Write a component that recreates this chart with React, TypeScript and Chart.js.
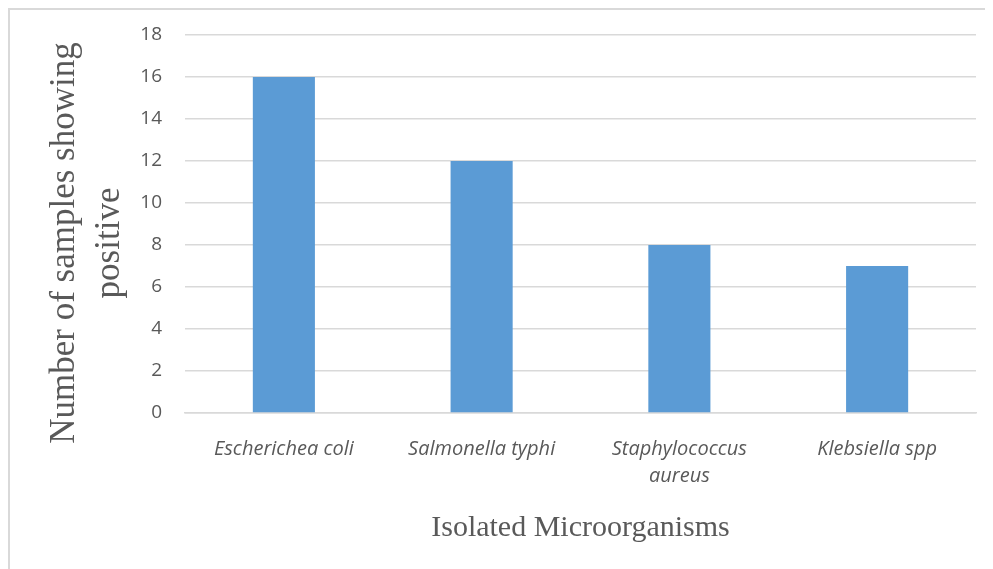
import React, { useEffect, useRef } from "react";
import { Chart, registerables } from "chart.js";

Chart.register(...registerables);

const categories: (string | string[])[] = [
  "Escherichea coli",
  "Salmonella typhi",
  ["Staphylococcus", "aureus"],
  "Klebsiella spp",
];
const positiveSamples = [16, 12, 8, 7];
const yTitleLines = ["Number of samples showing", "positive"];
const xTitle = "Isolated Microorganisms";

const CANVAS_W = 983;
const CANVAS_H = 559;

const yTitlePlugin = {
  id: "yTitlePlugin",
  afterDraw(chart: any) {
    const { ctx, chartArea } = chart;
    const cy = (chartArea.top + chartArea.bottom) / 2 + 19;
    ctx.save();
    ctx.fillStyle = "#595959";
    ctx.font = '35px "Liberation Serif", "Times New Roman", serif';
    ctx.textAlign = "center";
    ctx.textBaseline = "middle";
    const xs = [55, 100];
    yTitleLines.forEach((line, i) => {
      ctx.save();
      ctx.translate(xs[i], cy);
      ctx.rotate(-Math.PI / 2);
      ctx.fillText(line, 0, 0);
      ctx.restore();
    });
    ctx.restore();
  },
};

export default function App() {
  const ref = useRef<HTMLCanvasElement>(null);

  useEffect(() => {
    document.documentElement.style.overflow = "hidden";
    document.body.style.overflow = "hidden";
    if (!ref.current) return;
    const chart = new Chart(ref.current, {
      type: "bar",
      data: {
        labels: categories,
        datasets: [
          {
            data: positiveSamples,
            backgroundColor: "#5b9bd5",
            borderWidth: 0,
            barPercentage: 0.314,
            categoryPercentage: 1,
          },
        ],
      },
      options: {
        responsive: false,
        animation: false,
        devicePixelRatio: 1,
        layout: { padding: { top: 25, right: 17, left: 0, bottom: 0 } },
        plugins: {
          legend: { display: false },
          tooltip: { enabled: false },
        },
        scales: {
          x: {
            grid: { display: false, drawTicks: false },
            border: { display: true, color: "#d9d9d9", width: 1.5 },
            ticks: {
              color: "#595959",
              padding: 23,
              font: { family: '"Open Sans", sans-serif', size: 20, style: "italic", lineHeight: 1.35 },
            },
            title: {
              display: true,
              text: xTitle,
              color: "#595959",
              font: { family: '"Liberation Serif", "Times New Roman", serif', size: 30 },
              padding: { top: 0, bottom: 23 },
            },
            afterFit(scale: any) {
              scale.height = CANVAS_H - 403;
              scale.paddingLeft = 0;
              scale.paddingRight = 0;
            },
          },
          y: {
            min: 0,
            max: 18,
            grid: { color: "#d9d9d9", lineWidth: 1.5, drawTicks: false },
            border: { display: false },
            ticks: {
              stepSize: 2,
              color: "#595959",
              padding: 23,
              font: { family: '"Open Sans", sans-serif', size: 19 },
            },
            afterFit(scale: any) {
              scale.width = 175;
              scale.paddingTop = 0;
              scale.paddingBottom = 0;
            },
          },
        },
      },
      plugins: [yTitlePlugin],
    });
    return () => chart.destroy();
  }, []);

  return (
    <div
      style={{
        width: 985,
        height: 561,
        boxSizing: "border-box",
        borderTop: "2px solid #d9d9d9",
        borderLeft: "2px solid #d9d9d9",
        background: "#fff",
        overflow: "hidden",
      }}
    >
      <canvas ref={ref} width={CANVAS_W} height={CANVAS_H} style={{ display: "block" }} />
    </div>
  );
}
